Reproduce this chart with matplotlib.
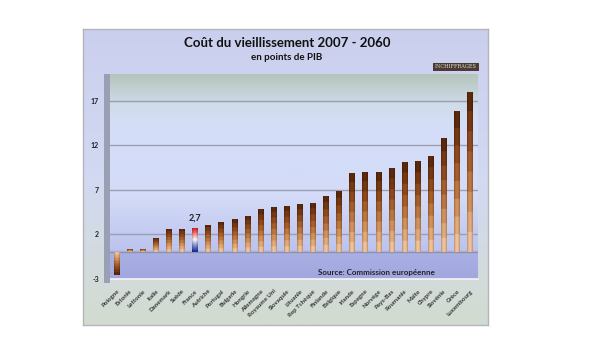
import numpy as np
import matplotlib.pyplot as plt
from matplotlib.colors import LinearSegmentedColormap
from matplotlib.patches import Rectangle

pays = ['Pologne', 'Estonie', 'Lettonie', 'Italie', 'Danemark', 'Suède', 'France',
        'Autriche', 'Portugal', 'Bulgarie', 'Hongrie', 'Allemagne', 'Royaume Uni',
        'Slovaquie', 'Lituanie', 'Rep Tchèque', 'Finlande', 'Belgique', 'Irlande',
        'Espagne', 'Norvège', 'Pays-Bas', 'Roumanie', 'Malte', 'Chypre', 'Slovénie',
        'Grèce', 'Luxembourg']
valeurs = [-2.5, 0.4, 0.4, 1.6, 2.6, 2.6, 2.7, 3.1, 3.4, 3.7, 4.1, 4.8, 5.1, 5.2,
           5.4, 5.5, 6.3, 6.9, 8.9, 9.0, 9.0, 9.4, 10.1, 10.2, 10.8, 12.8, 15.9, 18.0]
yticks = [-3, 2, 7, 12, 17]

W, H = 599, 361
def fr(x0, y0, x1, y1):
    # pixel box (top-left origin) -> figure fraction
    return [x0 / W, 1 - y1 / H, (x1 - x0) / W, (y1 - y0) / H]

fig = plt.figure(figsize=(W / 100, H / 100), dpi=100)
fig.patch.set_facecolor('white')

# outer frame with gradient
bg = fig.add_axes(fr(83, 29, 488, 325))
cm_bg = LinearSegmentedColormap.from_list('bg', ['#cbcfee', '#d2d9f2', '#d3dccf'])
bg.imshow(np.linspace(0, 1, 256)[:, None], cmap=cm_bg, aspect='auto', extent=(0, 1, 0, 1))
bg.set_xlim(0, 1)
bg.set_ylim(0, 1)
bg.set_xticks([])
bg.set_yticks([])
for s in bg.spines.values():
    s.set_color('#b4b4bc')
    s.set_linewidth(1)

# side wall
fig.patches.append(Rectangle((104 / W, 1 - 283 / H), 6 / W, 209 / H,
                             transform=fig.transFigure, facecolor='#9aa0b4',
                             edgecolor='none', zorder=1))

ax = fig.add_axes(fr(110, 74, 478, 279))
ymin, ymax = -3, 20
xmin, xmax = -0.5, 27.6

# back wall + floor gradient
cm_wall = LinearSegmentedColormap.from_list('wall', [
    (0.0, '#b5c5bc'), (0.15, '#cfdcea'), (0.25, '#d5def8'), (0.6, '#d3dbf8'),
    (0.86, '#bcc3ee'), (0.87, '#aab0e4'), (1.0, '#a2a8de')])
ax.imshow(np.linspace(0, 1, 256)[:, None], cmap=cm_wall, aspect='auto',
          extent=(xmin, xmax, ymin, ymax), zorder=0)

for t in yticks[1:]:
    ax.axhline(t, color='#9c9eb2', lw=1, zorder=1)
ax.axhline(0, color='#8f92a8', lw=1, zorder=1)

# bars with banded gradient
x = np.arange(len(pays))
bars = ax.bar(x, valeurs, width=0.44, color='none', edgecolor='none', zorder=2)

def gradient_img(colors, nbands=8):
    cm = LinearSegmentedColormap.from_list('g', colors)
    v = (np.floor(np.linspace(0, 0.999, 200) * nbands) / (nbands - 1)).clip(0, 1)
    rows = cm(v)[:, :3]
    h = np.linspace(-1, 1, 20)
    shade = 1 - 0.25 * h ** 2
    return rows[:, None, :] * shade[None, :, None]

brun = ['#f2c49a', '#d99a62', '#b56a34', '#8a4519', '#5e2a0c']
tricolore = ['#1a2a9a', '#8090d8', '#ffffff', '#f08080', '#e01010']

for i, (b, v) in enumerate(zip(bars, valeurs)):
    img = gradient_img(tricolore if pays[i] == 'France' else brun,
                       nbands=30 if pays[i] == 'France' else 8)
    x0 = b.get_x()
    x1 = x0 + b.get_width()
    im = ax.imshow(img, aspect='auto', extent=(x0, x1, 0, v), origin='lower', zorder=3)
    im.set_clip_path(b)

ax.text(6, 2.7 + 0.6, '2,7', ha='center', va='bottom', fontsize=6.5,
        fontweight='bold', fontfamily='Lato', color='#222222', zorder=4)

ax.set_xlim(xmin, xmax)
ax.set_ylim(ymin, ymax)
ax.set_yticks(yticks)
ax.set_yticklabels([str(t) for t in yticks], fontsize=5, fontweight='bold',
                   fontfamily='Lato', color='#222222')
ax.set_xticks(x)
ax.set_xticklabels(pays, rotation=45, ha='right', rotation_mode='anchor',
                   fontsize=4.4, fontweight='bold', fontfamily='Lato', color='#333333')
ax.tick_params(axis='y', length=0, pad=8)
ax.tick_params(axis='x', length=0, pad=7)
for s in ax.spines.values():
    s.set_visible(False)
ax.spines['bottom'].set_visible(True)
ax.spines['bottom'].set_color('#f4f4f8')
ax.spines['bottom'].set_linewidth(1.2)

fig.text(287 / W, 1 - 43 / H, 'Coût du vieillissement 2007 - 2060', ha='center',
         va='center', fontsize=9.5, fontweight='bold', fontfamily='Lato', color='#111111')
fig.text(287 / W, 1 - 58 / H, 'en points de PIB', ha='center', va='center',
         fontsize=7, fontweight='bold', fontfamily='Lato', color='#111111')
fig.text(456 / W, 1 - 67 / H, 'INCHIFFRAGES', ha='center', va='center',
         fontsize=3.6, fontfamily='DejaVu Serif', color='#e8ddd0',
         bbox=dict(facecolor='#4a3b33', edgecolor='none', pad=1.2))
fig.text(376 / W, 1 - 272 / H, 'Source: Commission européenne', ha='center',
         va='center', fontsize=5.8, fontweight='bold', fontfamily='Lato', color='#222222')

fig.savefig('out.png', dpi=100)
